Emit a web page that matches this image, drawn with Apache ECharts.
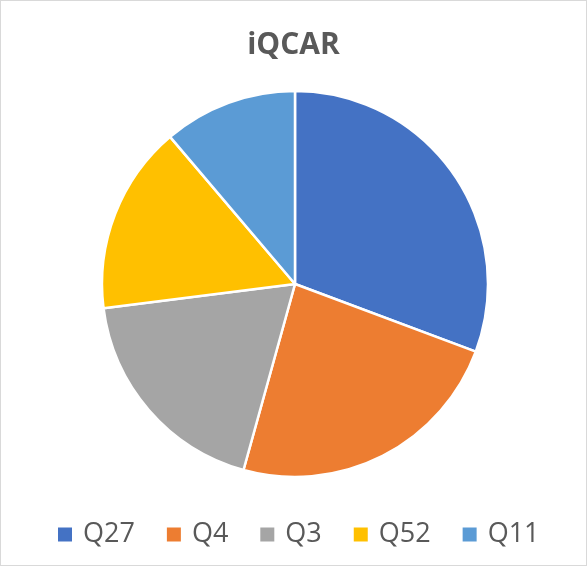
<!DOCTYPE html>
<html><head><meta charset="utf-8">
<script src="https://cdn.jsdelivr.net/npm/echarts@6/dist/echarts.min.js"></script>
<style>html,body{margin:0;padding:0;background:#fff}#c{width:587px;height:566px;box-sizing:border-box;border:1px solid #d9d9d9}</style>
</head><body><div id="c"></div>
<script>
const categories = ['Q27', 'Q4', 'Q3', 'Q52', 'Q11'];
const values = [30.7, 23.6, 18.7, 15.8, 11.2];
const colors = ['#4472C4', '#ED7D31', '#A5A5A5', '#FFC000', '#5B9BD5'];
const chart = echarts.init(document.getElementById('c'));
chart.setOption({
  animation: false,
  title: { text: 'iQCAR', left: 'center', top: 24, textStyle: { fontFamily: 'Open Sans', fontSize: 30, fontWeight: 'bold', color: '#595959' } },
  legend: {
    bottom: 12, left: 50, itemWidth: 16, itemHeight: 16, itemGap: 30, icon: 'rect',
    textStyle: { fontFamily: 'Open Sans', fontSize: 27, color: '#595959', padding: [0, 0, 0, 5] },
    data: categories
  },
  color: colors,
  series: [{
    type: 'pie', center: [294, 283], radius: 193, startAngle: 90, clockwise: true,
    label: { show: false }, labelLine: { show: false },
    itemStyle: { borderColor: '#fff', borderWidth: 2.5 },
    emphasis: { disabled: true },
    data: categories.map((c, i) => ({ name: c, value: values[i] }))
  }]
});
</script></body></html>
